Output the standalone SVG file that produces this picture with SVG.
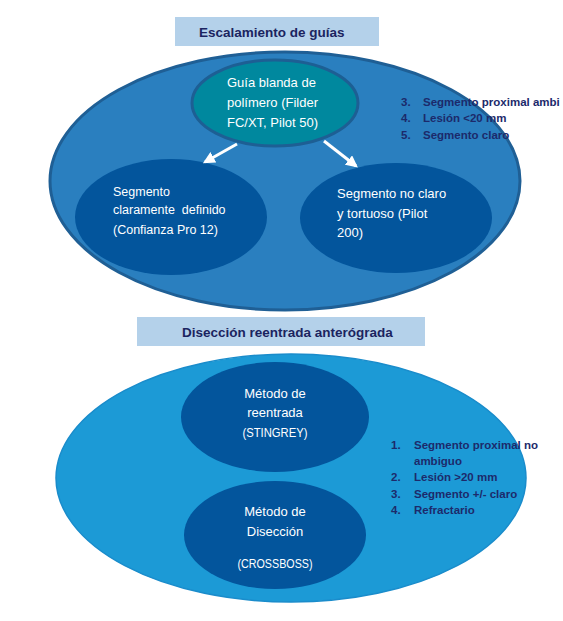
<svg xmlns="http://www.w3.org/2000/svg" width="563" height="621" viewBox="0 0 563 621">
<defs>
<style>
.title{font-family:"Liberation Sans",Arial,sans-serif;font-weight:bold;font-size:13.5px;fill:#1b2460}
.w{font-family:"Liberation Sans",Arial,sans-serif;font-size:13px;fill:#ffffff;white-space:pre}
.wc{font-family:"Liberation Sans",Arial,sans-serif;font-size:13px;fill:#ffffff;text-anchor:middle}
.li{font-family:"Liberation Sans",Arial,sans-serif;font-weight:bold;font-size:11.5px;fill:#1c2a6b}
.tbox{fill:#b4d1ea}
.inner{fill:#03559c}
</style>
<marker id="ah" viewBox="0 0 10 10" refX="8" refY="5" markerWidth="4" markerHeight="4" orient="auto" markerUnits="strokeWidth">
<path d="M0,0 L10,5 L0,10 z" fill="#ffffff"/>
</marker>
</defs>
<rect width="563" height="621" fill="#ffffff"/>

<g id="section1">
<g id="title1">
<rect class="tbox" x="175" y="17" width="204" height="29"/>
<text class="title" x="199" y="37">Escalamiento de guías</text>
</g>
<g id="outer1">
<ellipse cx="285" cy="181" rx="235" ry="129" fill="#2a7fbf" stroke="#1f5f95" stroke-width="3"/>
</g>
<g id="guia">
<ellipse cx="275" cy="103" rx="83" ry="43" fill="#00889e" stroke="#1d5f94" stroke-width="3"/>
<text class="w" x="227" y="87">Guía blanda de</text>
<text class="w" x="227" y="107">polímero (Filder</text>
<text class="w" x="227" y="127">FC/XT, Pilot 50)</text>
</g>
<g id="claro">
<ellipse class="inner" cx="171" cy="217" rx="96" ry="58"/>
<text class="w" x="113" y="196" style="font-size:12.5px">Segmento</text>
<text class="w" x="113" y="214" style="font-size:12.5px">claramente  definido</text>
<text class="w" x="113" y="234" style="font-size:12.5px">(Confianza Pro 12)</text>
</g>
<g id="noclaro">
<ellipse class="inner" cx="396" cy="218" rx="96" ry="55"/>
<text class="w" x="337" y="198">Segmento no claro</text>
<text class="w" x="337" y="218">y tortuoso (Pilot</text>
<text class="w" x="337" y="237">200)</text>
</g>
<g id="list1">
<text class="li" x="401" y="106">3.</text><text class="li" x="423" y="106">Segmento proximal ambi</text>
<text class="li" x="401" y="122">4.</text><text class="li" x="423" y="122">Lesión &lt;20 mm</text>
<text class="li" x="401" y="139">5.</text><text class="li" x="423" y="139">Segmento claro</text>
</g>
</g>

<g id="connectors">
<line x1="237" y1="144" x2="205" y2="162" stroke="#ffffff" stroke-width="3" marker-end="url(#ah)"/>
<line x1="324" y1="141" x2="356" y2="166" stroke="#ffffff" stroke-width="3" marker-end="url(#ah)"/>
</g>

<g id="section2">
<g id="title2">
<rect class="tbox" x="137" y="317" width="288" height="29"/>
<text class="title" x="182" y="337">Disección reentrada anterógrada</text>
</g>
<g id="outer2">
<ellipse cx="291" cy="478" rx="235" ry="124" fill="#1c9ad6" stroke="#1a8ccb" stroke-width="1.5"/>
</g>
<g id="reentrada">
<ellipse class="inner" cx="275" cy="417" rx="94" ry="55"/>
<text class="wc" x="275" y="398">Método de</text>
<text class="wc" x="275" y="417">reentrada</text>
<text class="wc" x="275" y="437" textLength="65" lengthAdjust="spacingAndGlyphs">(STINGREY)</text>
</g>
<g id="diseccion">
<ellipse class="inner" cx="275" cy="535" rx="91" ry="54"/>
<text class="wc" x="275" y="516">Método de</text>
<text class="wc" x="275" y="536">Disección</text>
<text class="wc" x="275" y="568" textLength="75" lengthAdjust="spacingAndGlyphs">(CROSSBOSS)</text>
</g>
<g id="list2">
<text class="li" x="391" y="449">1.</text><text class="li" x="414" y="449">Segmento proximal no</text>
<text class="li" x="414" y="465">ambiguo</text>
<text class="li" x="391" y="481">2.</text><text class="li" x="414" y="481">Lesión &gt;20 mm</text>
<text class="li" x="391" y="498">3.</text><text class="li" x="414" y="498">Segmento +/- claro</text>
<text class="li" x="391" y="514">4.</text><text class="li" x="414" y="514">Refractario</text>
</g>
</g>
</svg>
